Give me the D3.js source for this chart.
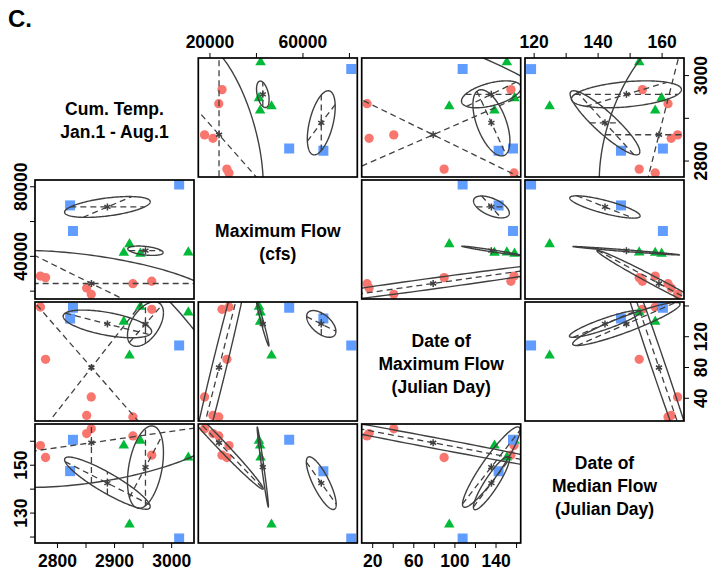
<!DOCTYPE html>
<html lang="en">
<head>
<meta charset="UTF-8">
<title>Scatterplot matrix C</title>
<script src="https://cdn.jsdelivr.net/npm/d3@7/dist/d3.min.js"></script>
<style>
  body { margin: 0; background: #fff; }
  text { font-family: "Liberation Sans", Arial, sans-serif; font-weight: bold; fill: #000; }
</style>
</head>
<body>
<div id="viz"></div>
<script>
// variables, in matrix order
const diagLabels = [["Cum. Temp.", "Jan.1 - Aug.1"], ["Maximum Flow", "(cfs)"],
                    ["Date of", "Maximum Flow", "(Julian Day)"], ["Date of", "Median Flow", "(Julian Day)"]];
const domains = [[2761.5, 3040], [15200, 83600], [9.8, 164.5], [117.3, 167]];

// observations (red circles, green triangles, blue squares)
const tempRed = [2771, 2780, 2852, 2860, 2933, 2966];
const flowRed = [28400, 27500, 21500, 17900, 24000, 25400];
const dmaxRed = [158, 90, 17, 41, 15, 155];
const dmedRed = [158, 153, 163, 165, 162, 154];
const tempGreen = [2927, 2917, 2946, 3030];
const flowGreen = [46700, 41800, 41300, 42000];
const dmaxGreen = [95, 139, 158.5, 151];
const dmedGreen = [125, 158, 160, 153];
const tempBlue = [2823, 2828, 3014];
const flowBlue = [69000, 54300, 81000];
const dmaxBlue = [143, 157, 108];
const dmedBlue = [147.3, 160.4, 119.2];

// ellipses per pair: [sd of first var, sd of second var, r] for red, green, blue
const ellTempFlow = [[223, 19000, -0.52], [31, 2700, -0.4], [75, 6000, 0.5]];
const ellTempDmax = [[281, 211, -0.6], [31.5, 29, 0.5], [77.5, 18, -0.55]];
const ellTempDmed = [[245, 18.65, 0.434], [31.5, 17.2, 0.35], [75, 10.9, -0.9]];
const ellFlowDmax = [[15950, 193.6, 0.98], [2650, 28.7, -0.976], [6300, 17.4, -0.55]];
const ellFlowDmed = [[19020, 19.4, -0.99], [2430, 16.7, -0.98], [6420, 11, -0.8]];
const ellDmaxDmed = [[197, 16.2, -0.99], [28, 16.8, 0.92], [17.5, 11.1, 0.9]];

// dashed lines through the group means: slope d(second)/d(first)
const dashTempFlow = [[0, -162], [0], [0, 140]];
const dashTempDmax = [[-0.85, 0.95], [0.85, Infinity], [-0.19]];
const dashTempDmed = [[Infinity, 0.034], [Infinity, 0.45], [Infinity, -0.121]];
const dashFlowDmax = [[0.0119], [], [Infinity, -0.0015]];
const dashFlowDmed = [[-0.00101], [], [-0.00137]];
const dashDmaxDmed = [[-0.0814], [0.55], [0.57]];

// axis ticks and which of them carry a label
const topTicks = {1: [[20000, 40000, 60000, 80000], [20000, 60000]], 3: [[120, 130, 140, 150, 160], [120, 140, 160]]};
const bottomTicks = {0: [[2800, 2850, 2900, 2950, 3000], [2800, 2900, 3000]], 2: [[20, 40, 60, 80, 100, 120, 140, 160], [20, 60, 100, 140]]};
const leftTicks = {1: [[20000, 40000, 60000, 80000], [40000, 80000]], 3: [[120, 130, 140, 150, 160], [130, 150]]};
const rightTicks = {0: [[2800, 2900, 3000], [2800, 3000]], 2: [[40, 80, 120, 160], [40, 80, 120]]};

const groups = [
  {color: "#F8766D", shape: d3.symbolCircle, size: 68, cols: [tempRed, flowRed, dmaxRed, dmedRed]},
  {color: "#00BA38", shape: d3.symbolTriangle, size: 48, cols: [tempGreen, flowGreen, dmaxGreen, dmedGreen]},
  {color: "#619CFF", shape: d3.symbolSquare, size: 100, cols: [tempBlue, flowBlue, dmaxBlue, dmedBlue]}
];
const pairs = {
  "0-1": [ellTempFlow, dashTempFlow], "0-2": [ellTempDmax, dashTempDmax], "0-3": [ellTempDmed, dashTempDmed],
  "1-2": [ellFlowDmax, dashFlowDmax], "1-3": [ellFlowDmed, dashFlowDmed], "2-3": [ellDmaxDmed, dashDmaxDmed]
};

const width = 710, height = 571;
const colLeft = [35, 198.3, 361.7, 525], rowTop = [58, 180, 302, 424];
const W = 159, H = 119;
const ink = "#404040";

const xs = domains.map(d => d3.scaleLinear().domain(d).range([0, W]));
const ys = domains.map(d => d3.scaleLinear().domain(d).range([H, 0]));

const svg = d3.select("#viz").append("svg")
  .attr("width", width).attr("height", height);

svg.append("text").attr("x", 8).attr("y", 27)
  .style("font-size", "24px").text("C.");

const means = groups.map(g => g.cols.map(c => d3.mean(c)));

function ellipsePoints(mx, my, sx, sy, r) {
  const phi = Math.acos(r);
  return d3.range(0, 361, 2).map(k => {
    const t = k * Math.PI / 180;
    return [mx + sx * Math.cos(t), my + sy * Math.cos(t - phi)];
  });
}

function dashEnds(mx, my, sx, sy, r, slope) {
  let dx = 1, dy = slope;
  if (!isFinite(slope)) { dx = 0; dy = 1; }
  const u = dx / sx, v = dy / sy;
  const q = (u * u - 2 * r * u * v + v * v) / (1 - r * r);
  const t = 1 / Math.sqrt(q);
  return [[mx - t * dx, my - t * dy], [mx + t * dx, my + t * dy]];
}

for (let i = 0; i < 4; i++) {
  for (let j = 0; j < 4; j++) {
    const g = svg.append("g").attr("transform", `translate(${colLeft[j]},${rowTop[i]})`);
    if (i === j) {
      const lines = diagLabels[i];
      g.selectAll("text").data(lines).enter().append("text")
        .attr("x", W / 2)
        .attr("y", (d, k) => H / 2 + 2.5 + (k - (lines.length - 1) / 2) * 23)
        .attr("text-anchor", "middle")
        .attr("dominant-baseline", "central")
        .style("font-size", "17.5px")
        .text(d => d);
      continue;
    }
    const xv = j, yv = i;
    const x = xs[xv], y = ys[yv];
    const a = Math.min(xv, yv), b = Math.max(xv, yv);
    const swapped = xv !== a;
    const [ells, dashes] = pairs[a + "-" + b];

    const clipId = `clip-${i}-${j}`;
    g.append("clipPath").attr("id", clipId)
      .append("rect").attr("width", W).attr("height", H);
    const inner = g.append("g").attr("clip-path", `url(#${clipId})`);

    // points
    groups.forEach(gr => {
      const pts = gr.cols[xv].map((v, k) => [v, gr.cols[yv][k]]);
      inner.selectAll(null).data(pts).enter().append("path")
        .attr("d", d3.symbol().type(gr.shape).size(gr.size))
        .attr("transform", d => `translate(${x(d[0])},${y(d[1])})`)
        .attr("fill", gr.color);
    });

    const line = d3.line().x(d => x(d[0])).y(d => y(d[1]));

    groups.forEach((gr, gi) => {
      const mx = means[gi][xv], my = means[gi][yv];
      const e = ells[gi];
      const sx = swapped ? e[1] : e[0];
      const sy = swapped ? e[0] : e[1];
      const r = e[2];

      inner.append("path")
        .attr("d", line(ellipsePoints(mx, my, sx, sy, r)))
        .attr("fill", "none").attr("stroke", ink).attr("stroke-width", 1.4);

      dashes[gi].forEach(s => {
        let slope = s;
        if (swapped) slope = s === 0 ? Infinity : (isFinite(s) ? 1 / s : 0);
        inner.append("path")
          .attr("d", line(dashEnds(mx, my, sx, sy, r, slope)))
          .attr("fill", "none").attr("stroke", ink).attr("stroke-width", 1.3)
          .attr("stroke-dasharray", "6,4");
      });

      // asterisk at the group mean
      const cx = x(mx), cy = y(my);
      [90, 30, 150].forEach(ang => {
        const rad = ang * Math.PI / 180;
        inner.append("line")
          .attr("x1", cx - 3.5 * Math.cos(rad)).attr("y1", cy - 3.5 * Math.sin(rad))
          .attr("x2", cx + 3.5 * Math.cos(rad)).attr("y2", cy + 3.5 * Math.sin(rad))
          .attr("stroke", ink).attr("stroke-width", 1.5);
      });
    });

    g.append("rect").attr("width", W).attr("height", H)
      .attr("fill", "none").attr("stroke", "#000").attr("stroke-width", 1.7);
  }
}

// axes
function styleAxis(sel) {
  sel.select(".domain").remove();
  sel.selectAll(".tick line").attr("stroke", "#000").attr("stroke-width", 1);
  sel.selectAll("text").style("font-size", "17.5px").style("font-family", null);
}
function fmt(labels) { return d => labels.includes(d) ? String(d) : ""; }

Object.entries(topTicks).forEach(([c, [tv, lab]]) => {
  svg.append("g").attr("transform", `translate(${colLeft[c]},${rowTop[0]})`)
    .call(d3.axisTop(xs[c]).tickValues(tv).tickFormat(fmt(lab)).tickSize(5).tickPadding(5))
    .call(styleAxis);
});
Object.entries(bottomTicks).forEach(([c, [tv, lab]]) => {
  svg.append("g").attr("transform", `translate(${colLeft[c]},${rowTop[3] + H})`)
    .call(d3.axisBottom(xs[c]).tickValues(tv).tickFormat(fmt(lab)).tickSize(5).tickPadding(7))
    .call(styleAxis);
});
Object.entries(leftTicks).forEach(([r, [tv, lab]]) => {
  svg.append("g").attr("transform", `translate(${colLeft[0]},${rowTop[r]})`)
    .call(d3.axisLeft(ys[r]).tickValues(tv).tickFormat(fmt(lab)).tickSize(5))
    .call(styleAxis)
    .selectAll("text")
      .attr("transform", "rotate(-90)")
      .attr("x", 0).attr("y", -8).attr("dy", 0)
      .attr("text-anchor", "middle");
});
Object.entries(rightTicks).forEach(([r, [tv, lab]]) => {
  svg.append("g").attr("transform", `translate(${colLeft[3] + W},${rowTop[r]})`)
    .call(d3.axisRight(ys[r]).tickValues(tv).tickFormat(fmt(lab)).tickSize(5))
    .call(styleAxis)
    .selectAll("text")
      .attr("transform", "rotate(-90)")
      .attr("x", 0).attr("y", 23).attr("dy", 0)
      .attr("text-anchor", "middle");
});
</script>
</body>
</html>
